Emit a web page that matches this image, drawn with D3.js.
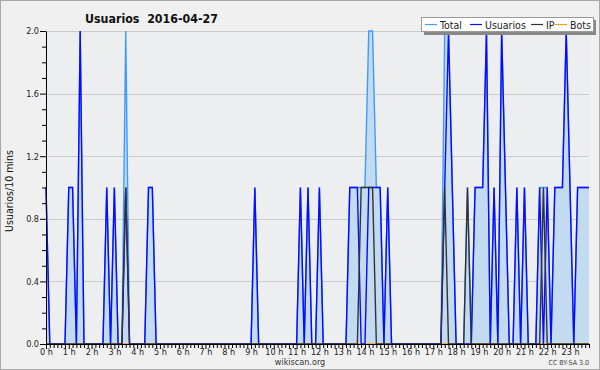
<!DOCTYPE html>
<html>
<head>
<meta charset="utf-8">
<script src="https://cdn.jsdelivr.net/npm/d3@7/dist/d3.min.js"></script>
<style>
  body { margin: 0; background: #fff; }
  text { font-family: "DejaVu Sans Condensed", "DejaVu Sans", sans-serif; }
</style>
</head>
<body>
<div id="chart"></div>
<script>

// 10-minute bins, 6 per hour, 0 h .. 23 h
var hourLabels = d3.range(24).map(function(h) { return h + " h"; });

var totalVals = [
  1,0,0,0,0,0,  1,1,0,2,0,0,  0,0,0,0,1,0,  1,0,0,2,0,0,
  0,0,0,1,1,0,  0,0,0,0,0,0,  0,0,0,0,0,0,  0,0,0,0,0,0,
  0,0,0,0,0,0,  0,1,0,0,0,0,  0,0,0,0,0,0,  0,1,0,1,0,0,
  1,0,0,0,0,0,  0,0,1,1,1,1,  1,2,2,1,1,0,  1,0,0,0,0,0,
  0,0,0,0,0,0,  0,0,0,2,2,1,  0,0,0,1,0,1,  1,1,2,0,1,0,
  2,1,0,0,1,0,  1,0,0,0,1,1,  1,0,1,1,1,2,  1,0,1,1,1,1
];

var usuariosVals = [
  1,0,0,0,0,0,  1,1,0,2,0,0,  0,0,0,0,1,0,  1,0,0,1,0,0,
  0,0,0,1,1,0,  0,0,0,0,0,0,  0,0,0,0,0,0,  0,0,0,0,0,0,
  0,0,0,0,0,0,  0,1,0,0,0,0,  0,0,0,0,0,0,  0,1,0,1,0,0,
  1,0,0,0,0,0,  0,0,1,1,1,0,  0,1,1,1,1,0,  1,0,0,0,0,0,
  0,0,0,0,0,0,  0,0,0,1,2,1,  0,0,0,0,0,1,  1,1,2,0,1,0,
  2,1,0,0,1,0,  1,0,0,0,1,0,  1,0,1,1,1,2,  1,0,1,1,1,1
];

var ipVals = [
  0,0,0,0,0,0,  0,0,0,0,0,0,  0,0,0,0,0,0,  0,0,0,1,0,0,
  0,0,0,0,0,0,  0,0,0,0,0,0,  0,0,0,0,0,0,  0,0,0,0,0,0,
  0,0,0,0,0,0,  0,0,0,0,0,0,  0,0,0,0,0,0,  0,0,0,0,0,0,
  0,0,0,0,0,0,  0,0,0,0,0,1,  1,1,1,0,0,0,  0,0,0,0,0,0,
  0,0,0,0,0,0,  0,0,0,1,0,0,  0,0,0,1,0,0,  0,0,0,0,0,0,
  0,0,0,0,0,0,  0,0,0,0,0,1,  0,0,0,0,0,0,  0,0,0,0,0,0
];

var botsVals = [
  0,0,0,0,0,0,  0,0,0,0,0,0,  0,0,0,0,0,0,  0,0,0,0,0,0,
  0,0,0,0,0,0,  0,0,0,0,0,0,  0,0,0,0,0,0,  0,0,0,0,0,0,
  0,0,0,0,0,0,  0,0,0,0,0,0,  0,0,0,0,0,0,  0,0,0,0,0,0,
  0,0,0,0,0,0,  0,0,0,0,0,0,  0,0,0,0,0,0,  0,0,0,0,0,0,
  0,0,0,0,0,0,  0,0,0,0,0,0,  0,0,0,0,0,0,  0,0,0,0,0,0,
  0,0,0,0,0,0,  0,0,0,0,0,0,  0,0,0,0,0,0,  0,0,0,0,0,0
];

var seriesNames = ["Total", "Usuarios", "IP", "Bots"];
var seriesColors = ["#3d9bff", "#0a0aff", "#333333", "#ff9900"];
var yTicks = [0, 0.4, 0.8, 1.2, 1.6, 2.0];

var width = 600, height = 370;
var margin = {top: 31, right: 11, bottom: 26, left: 46};

var svg = d3.select("#chart").append("svg")
    .attr("width", width)
    .attr("height", height);

// background + border
svg.append("rect")
    .attr("x", 0.5).attr("y", 0.5)
    .attr("width", width - 1).attr("height", height - 1)
    .attr("fill", "#f0f0f0")
    .attr("stroke", "#a8a8a8");

var x = d3.scaleLinear().domain([0, 143]).range([margin.left, width - margin.right]);
var y = d3.scaleLinear().domain([0, 2]).range([height - margin.bottom, margin.top]);

// plot background
svg.append("rect")
    .attr("x", x(0)).attr("y", y(2))
    .attr("width", x(143) - x(0)).attr("height", y(0) - y(2))
    .attr("fill", "#edeef0");

// grid lines
svg.append("g").selectAll("line")
    .data(yTicks.slice(1))
    .enter().append("line")
    .attr("x1", x(0)).attr("x2", x(143))
    .attr("y1", function(d) { return Math.round(y(d)) + 0.5; })
    .attr("y2", function(d) { return Math.round(y(d)) + 0.5; })
    .attr("stroke", "#cccccc");

function toPoints(vals) {
  return vals.map(function(v, i) { return {i: i, v: v}; });
}

var area = d3.area()
    .x(function(d) { return x(d.i); })
    .y0(y(0))
    .y1(function(d) { return y(d.v); });

var line = d3.line()
    .x(function(d) { return x(d.i); })
    .y(function(d) { return y(d.v); });

// Total area
svg.append("path")
    .datum(toPoints(totalVals))
    .attr("fill", "#c3dbf0")
    .attr("d", area);

var allVals = [totalVals, usuariosVals, ipVals, botsVals];
var drawOrder = [3, 0, 1, 2];
drawOrder.forEach(function(k) {
  svg.append("path")
      .datum(toPoints(allVals[k]))
      .attr("fill", "none")
      .attr("stroke", seriesColors[k])
      .attr("stroke-width", 1.4)
      .attr("stroke-linejoin", "miter")
      .attr("d", line);
});

// X axis
var xAxis = d3.axisBottom(x)
    .tickValues(d3.range(144))
    .tickSize(4)
    .tickSizeOuter(0)
    .tickFormat(function(d) { return d % 6 === 0 ? hourLabels[d / 6] : ""; });

var gx = svg.append("g")
    .attr("transform", "translate(0," + y(0) + ")")
    .call(xAxis);
gx.select(".domain").attr("stroke", "#000");
gx.selectAll(".tick line").attr("stroke", "#000")
    .attr("y2", function(d) { return d % 6 === 0 ? 5 : 4; });
gx.selectAll(".tick text")
    .attr("y", 5)
    .attr("fill", "#222")
    .style("font-size", "9px")
    .style("font-family", "'DejaVu Sans Condensed', sans-serif");

// Y axis
var yAxis = d3.axisLeft(y)
    .tickValues(d3.range(21).map(function(i) { return i / 10; }))
    .tickSize(4)
    .tickSizeOuter(0)
    .tickFormat(function(d) { return Math.round(d * 10) % 4 === 0 ? d3.format(".1f")(d) : ""; });

var gy = svg.append("g")
    .attr("transform", "translate(" + x(0) + ",0)")
    .call(yAxis);
gy.select(".domain").attr("stroke", "#000");
gy.selectAll(".tick line").attr("stroke", "#000")
    .attr("x2", function(d) { return Math.round(d * 10) % 4 === 0 ? -6 : -4; });
gy.selectAll(".tick text")
    .attr("x", -7)
    .attr("fill", "#222")
    .style("font-size", "9px")
    .style("font-family", "'DejaVu Sans Condensed', sans-serif");

// title
svg.append("text")
    .attr("x", 85).attr("y", 23)
    .attr("font-size", "13px")
    .attr("font-weight", "bold")
    .attr("fill", "#111")
    .attr("textLength", 133)
    .attr("lengthAdjust", "spacingAndGlyphs")
    .style("white-space", "pre")
    .text("Usuarios  2016-04-27");

// y label
svg.append("text")
    .attr("transform", "translate(13,191) rotate(-90)")
    .attr("text-anchor", "middle")
    .attr("font-size", "10.5px")
    .attr("fill", "#111")
    .text("Usuarios/10 mins");

// footer
svg.append("text")
    .attr("x", 300).attr("y", 365)
    .attr("text-anchor", "middle")
    .attr("font-size", "9px")
    .attr("fill", "#333")
    .text("wikiscan.org");

svg.append("text")
    .attr("x", 589).attr("y", 365)
    .attr("text-anchor", "end")
    .attr("font-size", "7px")
    .attr("fill", "#444")
    .text("CC BY-SA 3.0");

// legend
var legend = svg.append("g").attr("transform", "translate(421,17)");
legend.append("rect")
    .attr("x", 3).attr("y", 3)
    .attr("width", 172).attr("height", 15)
    .attr("fill", "#888");
legend.append("rect")
    .attr("x", 0.5).attr("y", 0.5)
    .attr("width", 172).attr("height", 14)
    .attr("fill", "#fff")
    .attr("stroke", "#999");

var legendX = [4, 49, 110, 134];
seriesNames.forEach(function(name, k) {
  var g = legend.append("g").attr("transform", "translate(" + legendX[k] + ",0)");
  g.append("line")
      .attr("x1", 0).attr("x2", 12)
      .attr("y1", 7.5).attr("y2", 7.5)
      .attr("stroke", seriesColors[k])
      .attr("stroke-width", 1.2);
  g.append("text")
      .attr("x", 15).attr("y", 11.5)
      .attr("font-size", "10.5px")
      .attr("fill", "#222")
      .text(name);
});

</script>
</body>
</html>
